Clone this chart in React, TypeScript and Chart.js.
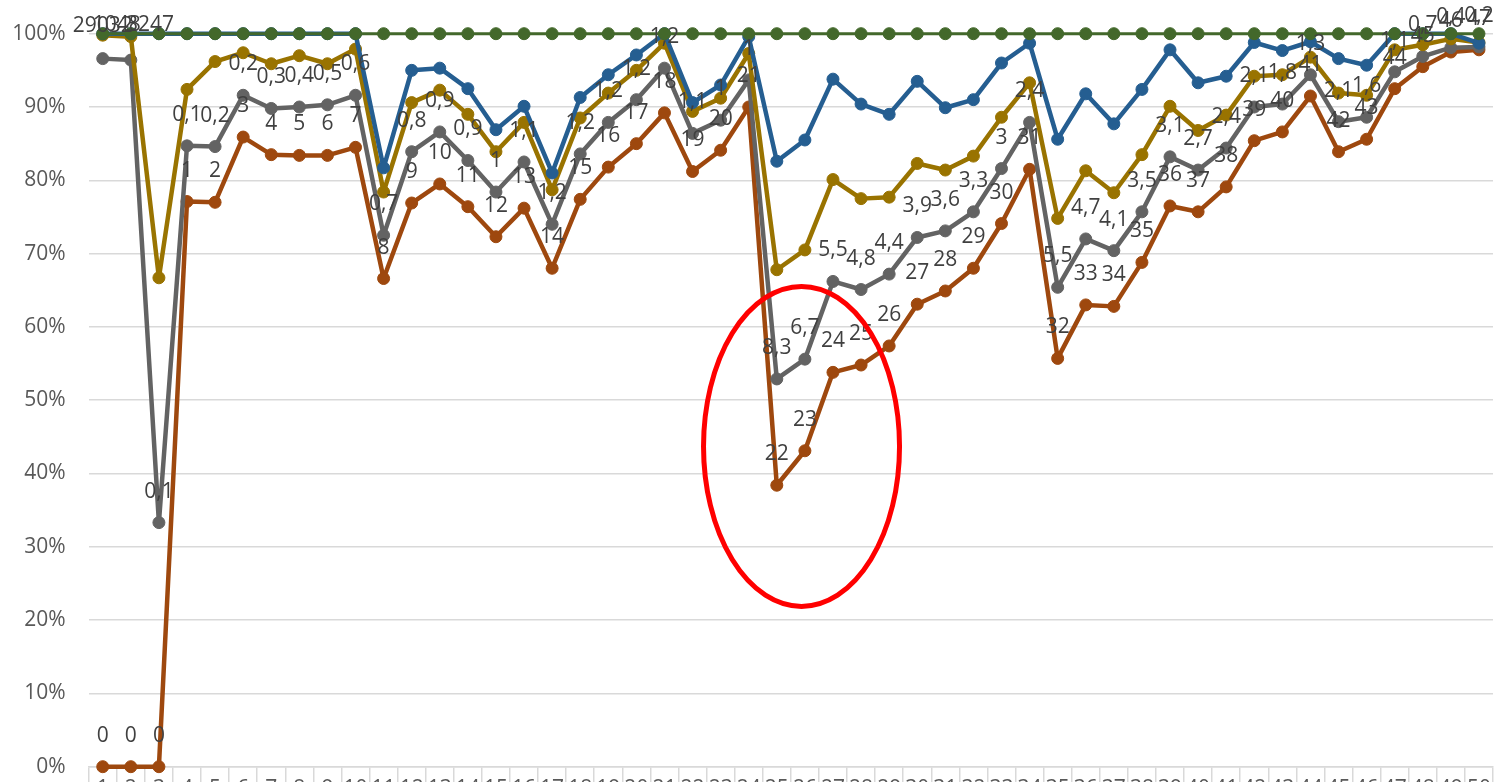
import React, { useEffect, useRef } from 'react';
import { Chart, registerables } from 'chart.js';

Chart.register(...registerables);

const categories = [
  '1', '2', '3', '4', '5', '6', '7', '8', '9', '10',
  '11', '12', '13', '14', '15', '16', '17', '18', '19', '20',
  '21', '22', '23', '24', '25', '26', '27', '28', '29', '30',
  '31', '32', '33', '34', '35', '36', '37', '38', '39', '40',
  '41', '42', '43', '44', '45', '46', '47', '48', '49', '50',
];

const greenSeries = [
  1, 1, 1, 1, 1, 1, 1, 1, 1, 1,
  1, 1, 1, 1, 1, 1, 1, 1, 1, 1,
  1, 1, 1, 1, 1, 1, 1, 1, 1, 1,
  1, 1, 1, 1, 1, 1, 1, 1, 1, 1,
  1, 1, 1, 1, 1, 1, 1, 1, 1, 1,
];

const blueSeries = [
  1, 1, 1, 1, 1, 1, 1, 1, 1, 1,
  0.817, 0.95, 0.953, 0.925, 0.869, 0.901, 0.81, 0.913, 0.944, 0.971,
  1, 0.906, 0.93, 0.996, 0.826, 0.855, 0.938, 0.904, 0.89, 0.935,
  0.899, 0.91, 0.96, 0.987, 0.856, 0.918, 0.877, 0.924, 0.978, 0.933,
  0.942, 0.988, 0.977, 0.989, 0.966, 0.957, 1, 1, 1, 0.987,
];

const goldSeries = [
  0.998, 0.996, 0.667, 0.924, 0.962, 0.974, 0.959, 0.97, 0.959, 0.979,
  0.784, 0.906, 0.923, 0.89, 0.839, 0.879, 0.787, 0.885, 0.919, 0.95,
  0.987, 0.894, 0.912, 0.973, 0.678, 0.705, 0.801, 0.775, 0.777, 0.823,
  0.814, 0.833, 0.886, 0.933, 0.748, 0.813, 0.783, 0.835, 0.901, 0.868,
  0.889, 0.942, 0.944, 0.968, 0.919, 0.916, 0.978, 0.985, 0.993, 0.988,
];

const graySeries = [
  0.966, 0.964, 0.333, 0.847, 0.846, 0.916, 0.898, 0.9, 0.903, 0.916,
  0.725, 0.839, 0.866, 0.827, 0.784, 0.825, 0.74, 0.836, 0.879, 0.91,
  0.953, 0.864, 0.882, 0.937, 0.529, 0.556, 0.662, 0.651, 0.672, 0.722,
  0.731, 0.757, 0.816, 0.879, 0.654, 0.72, 0.704, 0.757, 0.832, 0.814,
  0.844, 0.9, 0.904, 0.944, 0.88, 0.886, 0.948, 0.969, 0.981, 0.982,
];

const brownSeries = [
  0, 0, 0, 0.771, 0.77, 0.859, 0.835, 0.834, 0.834, 0.845,
  0.666, 0.769, 0.795, 0.764, 0.723, 0.762, 0.68, 0.774, 0.818, 0.85,
  0.892, 0.812, 0.841, 0.9, 0.384, 0.431, 0.538, 0.548, 0.574, 0.631,
  0.649, 0.68, 0.741, 0.815, 0.557, 0.63, 0.628, 0.688, 0.765, 0.757,
  0.791, 0.854, 0.866, 0.915, 0.839, 0.856, 0.925, 0.955, 0.975, 0.978,
];

const grayLabels = [
  '29032', '1048', '0,1', '0,1', '0,2', '0,2', '0,3', '0,4', '0,5', '0,6',
  '0,7', '0,8', '0,9', '0,9', '1', '1,1', '1,2', '1,2', '1,2', '1,2',
  '1,2', '1,1', '1', '1', '8,3', '6,7', '5,5', '4,8', '4,4', '3,9',
  '3,6', '3,3', '3', '2,4', '5,5', '4,7', '4,1', '3,5', '3,1', '2,7',
  '2,4', '2,1', '1,8', '1,3', '2,1', '1,6', '1,1', '0,7', '0,4', '0,2',
];

const brownLabels = [
  '0', '0', '0', '1', '2', '3', '4', '5', '6', '7',
  '8', '9', '10', '11', '12', '13', '14', '15', '16', '17',
  '18', '19', '20', '21', '22', '23', '24', '25', '26', '27',
  '28', '29', '30', '31', '32', '33', '34', '35', '36', '37',
  '38', '39', '40', '41', '42', '43', '44', '45', '46', '47',
];

const greenLabels = [
  null, null, '3247', null, null, null, null, null, null, null,
  null, null, null, null, null, null, null, null, null, null,
  null, null, null, null, null, null, null, null, null, null,
  null, null, null, null, null, null, null, null, null, null,
  null, null, null, null, null, null, null, null, null, null,
];

const yTicks = [0, 0.1, 0.2, 0.3, 0.4, 0.5, 0.6, 0.7, 0.8, 0.9, 1];

// annotation: ellipse centred on the category / value it highlights
const highlight = { category: 24.88, value: 0.437 };

const FONT_FAMILY = '"Open Sans", "DejaVu Sans", sans-serif';
const LABEL_COLOR = '#404040';
const AXIS_TEXT = '#595959';
const GRID = '#D9D9D9';

const labelAdjust: Record<string, Record<number, { dx: number; dy: number }>> = {
  gray: { 0: { dx: 0, dy: -33 }, 1: { dx: -14, dy: -35 } },
  green: { 2: { dx: -9, dy: -9 } },
};

const pointLabelPlugin = {
  id: 'pointLabels',
  afterDatasetsDraw(chart: any) {
    const ctx = chart.ctx;
    ctx.save();
    ctx.font = `21px ${FONT_FAMILY}`;
    ctx.fillStyle = LABEL_COLOR;
    ctx.textAlign = 'center';
    ctx.textBaseline = 'middle';
    chart.data.datasets.forEach((ds: any, di: number) => {
      const texts = ds.labelTexts;
      if (!texts) return;
      const meta = chart.getDatasetMeta(di);
      const adj = labelAdjust[ds.key] || {};
      meta.data.forEach((pt: any, i: number) => {
        const t = texts[i];
        if (t == null) return;
        const a = adj[i] || { dx: 0, dy: -31 };
        ctx.fillText(t, pt.x + a.dx, pt.y + a.dy);
      });
    });
    ctx.restore();
  },
};

const ellipsePlugin = {
  id: 'ellipse',
  afterDraw(chart: any) {
    const { ctx, scales } = chart;
    const cx = scales.x.getPixelForValue(highlight.category);
    const cy = scales.y.getPixelForValue(highlight.value);
    ctx.save();
    ctx.beginPath();
    ctx.ellipse(cx, cy, 98, 160, 0, 0, Math.PI * 2);
    ctx.strokeStyle = '#FF0000';
    ctx.lineWidth = 5;
    ctx.stroke();
    ctx.restore();
  },
};

function lineSet(key: string, data: number[], color: string, width: number, order: number, labels?: (string | null)[]) {
  return {
    key,
    label: key,
    data,
    borderColor: color,
    backgroundColor: color,
    pointBackgroundColor: color,
    pointBorderColor: color,
    pointRadius: 6,
    pointBorderWidth: 1,
    borderWidth: width,
    borderJoinStyle: 'round',
    borderCapStyle: 'round',
    tension: 0,
    fill: false,
    clip: false,
    order,
    labelTexts: labels,
  };
}

export default function App() {
  const ref = useRef<HTMLCanvasElement>(null);

  useEffect(() => {
    let chart: Chart | null = null;
    let cancelled = false;
    const build = () => {
      if (cancelled || !ref.current) return;
      chart = new Chart(ref.current, {
        type: 'line',
        data: {
          labels: categories,
          datasets: [
            lineSet('green', greenSeries, '#43682B', 3, 0, greenLabels),
            lineSet('blue', blueSeries, '#255E91', 4.5, 1),
            lineSet('gold', goldSeries, '#997300', 4.5, 2),
            lineSet('gray', graySeries, '#636363', 4.5, 3, grayLabels),
            lineSet('brown', brownSeries, '#9E480E', 4.5, 4, brownLabels),
          ] as any,
        },
        options: {
          responsive: false,
          animation: false,
          events: [],
          layout: { autoPadding: false, padding: { top: 33.7, right: 15, left: 0, bottom: 0 } },
          plugins: {
            legend: { display: false },
            tooltip: { enabled: false },
            title: { display: false },
          },
          scales: {
            x: {
              type: 'category',
              offset: true,
              grid: {
                offset: true,
                drawOnChartArea: false,
                drawTicks: true,
                tickLength: 40,
                color: GRID,
                lineWidth: 1.5,
              },
              border: { display: true, color: GRID, width: 1.5 },
              ticks: {
                autoSkip: false,
                maxRotation: 0,
                minRotation: 0,
                padding: -30,
                color: AXIS_TEXT,
                font: { family: FONT_FAMILY, size: 21 },
              },
              afterFit: (s: any) => {
                s.height = 33.3;
              },
            },
            y: {
              min: 0,
              max: 1,
              afterBuildTicks: (s: any) => {
                s.ticks = yTicks.map((v) => ({ value: v }));
              },
              grid: {
                color: GRID,
                lineWidth: 1.5,
                drawTicks: true,
                tickLength: 23,
                tickColor: 'rgba(0,0,0,0)',
              },
              border: { display: false },
              ticks: {
                padding: 0,
                color: AXIS_TEXT,
                font: { family: FONT_FAMILY, size: 21 },
                callback: (v: any) => `${Math.round(Number(v) * 100)}%`,
              },
              afterFit: (s: any) => {
                s.width = 88.7;
              },
            },
          },
        } as any,
        plugins: [pointLabelPlugin, ellipsePlugin],
      });
    };
    const fonts = (document as any).fonts;
    if (fonts && fonts.load) {
      fonts.load(`21px "Open Sans"`).then(build, build);
    } else {
      build();
    }
    return () => {
      cancelled = true;
      if (chart) chart.destroy();
    };
  }, []);

  return (
    <div
      style={{
        position: 'fixed',
        left: 0,
        top: 0,
        width: 1508,
        height: 782,
        overflow: 'hidden',
        background: '#ffffff',
      }}
    >
      <canvas ref={ref} width={1508} height={800} style={{ display: 'block', width: 1508, height: 800 }} />
    </div>
  );
}
